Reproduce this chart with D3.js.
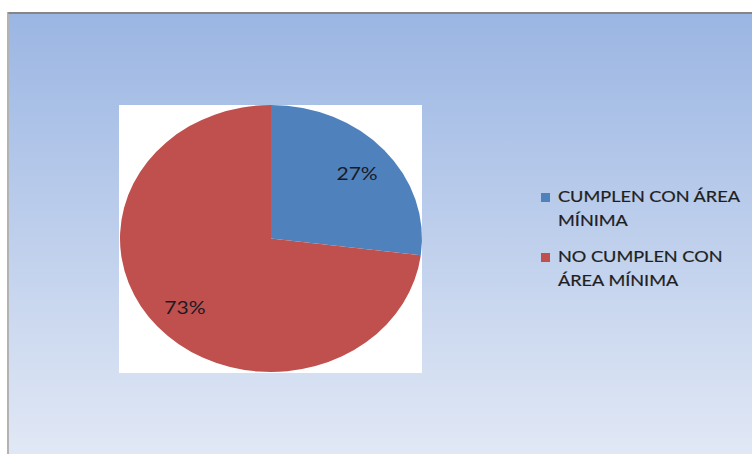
<!DOCTYPE html>
<html>
<head>
<meta charset="utf-8">
<script src="https://cdn.jsdelivr.net/npm/d3@7"></script>
<style>
  html, body { margin: 0; padding: 0; background: #ffffff; }
  svg { display: block; }
</style>
</head>
<body>
<svg id="chart" width="752" height="454"></svg>
<script>
// Share of lots that meet the minimum area requirement
const categories = ["CUMPLEN CON ÁREA MÍNIMA", "NO CUMPLEN CON ÁREA MÍNIMA"];
const legendLines = [["CUMPLEN CON ÁREA", "MÍNIMA"], ["NO CUMPLEN CON", "ÁREA MÍNIMA"]];
const values = [27, 73];
const colors = ["#4f81bd", "#c0504d"];

const svg = d3.select("#chart");
const W = 752, H = 454;
const font = "Lato, 'Open Sans', sans-serif";
const stretch = 1.25; // text is drawn slightly widened

// Chart frame with vertical blue gradient
const defs = svg.append("defs");
const grad = defs.append("linearGradient")
  .attr("id", "bg").attr("x1", 0).attr("y1", 0).attr("x2", 0).attr("y2", 1);
grad.append("stop").attr("offset", "0%").attr("stop-color", "#9bb6e3");
grad.append("stop").attr("offset", "100%").attr("stop-color", "#e1e8f5");

const frame = { x: 9, y: 14 };
svg.append("rect")
  .attr("x", frame.x).attr("y", frame.y)
  .attr("width", W - frame.x).attr("height", H - frame.y)
  .attr("fill", "url(#bg)");
svg.append("line")
  .attr("x1", frame.x - 1).attr("x2", W).attr("y1", frame.y - 1).attr("y2", frame.y - 1)
  .attr("stroke", "#858585").attr("stroke-width", 2);
svg.append("line")
  .attr("x1", frame.x - 1).attr("x2", frame.x - 1).attr("y1", frame.y - 2).attr("y2", H)
  .attr("stroke", "#9a9a9a").attr("stroke-width", 1.5);

// White plot area
const plot = { x: 119, y: 105, w: 303, h: 268 };
svg.append("rect")
  .attr("x", plot.x).attr("y", plot.y)
  .attr("width", plot.w).attr("height", plot.h)
  .attr("fill", "#ffffff");

// Pie (drawn as a circle and stretched to an ellipse)
const cx = 271, cy = 238.5, rx = 151, ry = 133.5;
const pie = d3.pie().sort(null).value(d => d)(values);
const arc = d3.arc().innerRadius(0).outerRadius(rx);

const pieG = svg.append("g")
  .attr("transform", `translate(${cx},${cy}) scale(1,${ry / rx})`);
pieG.selectAll("path")
  .data(pie)
  .join("path")
  .attr("d", arc)
  .attr("fill", (d, i) => colors[i]);

// Percentage labels
const labelArc = d3.arc().innerRadius(rx * 0.76).outerRadius(rx * 0.76);
svg.append("g")
  .selectAll("g")
  .data(pie)
  .join("g")
  .attr("transform", d => {
    const [lx, ly] = labelArc.centroid(d);
    return `translate(${cx + lx},${cy + ly * ry / rx + 2}) scale(${stretch * 0.96},1)`;
  })
  .append("text")
  .attr("text-anchor", "middle")
  .attr("dominant-baseline", "central")
  .attr("font-family", font)
  .attr("font-size", 17.5)
  .attr("fill", "#1a1a24")
  .text(d => d.data + "%");

// Legend
const legend = svg.append("g").attr("transform", "translate(541,0)");
const itemY = [202, 262];
legendLines.forEach((lines, i) => {
  legend.append("rect")
    .attr("x", 0).attr("y", itemY[i] - 9)
    .attr("width", 9).attr("height", 9)
    .attr("fill", colors[i]);
  lines.forEach((ln, j) => {
    legend.append("g")
      .attr("transform", `translate(17,${itemY[i] + j * 24}) scale(${stretch},1)`)
      .append("text")
      .attr("font-family", font)
      .attr("font-size", 14.5)
      .attr("fill", "#1e1e1e")
      .attr("stroke", "#1e1e1e")
      .attr("stroke-width", 0.2)
      .text(ln);
  });
});
</script>
</body>
</html>
